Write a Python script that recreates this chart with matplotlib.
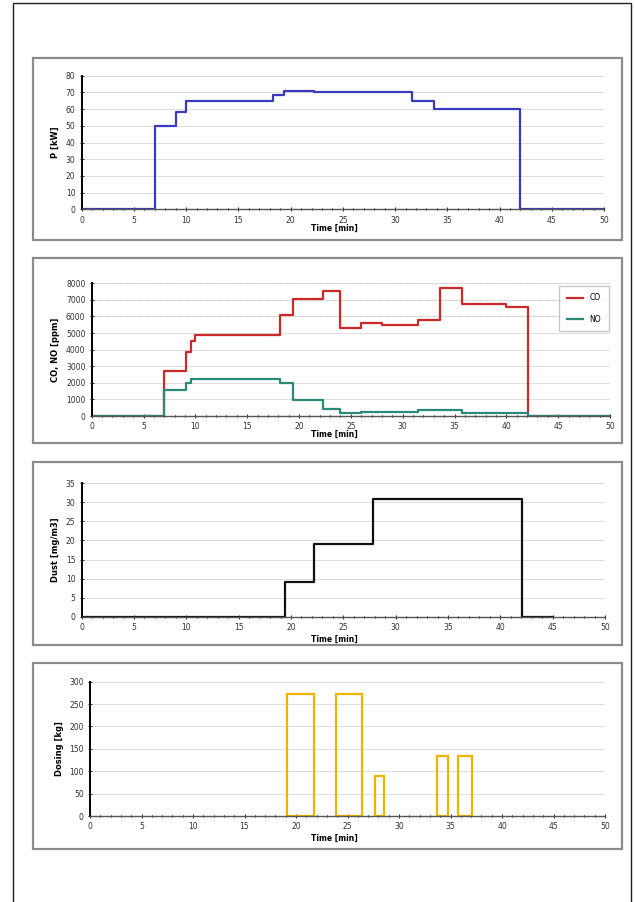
import matplotlib
matplotlib.use("Agg")
import matplotlib.pyplot as plt
from matplotlib.patches import Rectangle
from matplotlib.ticker import MultipleLocator

# -------------------------------
# data
# -------------------------------
p_time = [0, 7, 9, 10, 18.3, 19.4, 22.2, 31.6, 33.7, 42, 50]
p_kw = [0, 50, 58, 65, 68.5, 71, 70, 65, 60, 0, 0]

co_time = [0, 7, 9.1, 9.6, 10, 18.2, 19.4, 22.3, 24, 26, 28, 31.5, 33.6, 35.7, 40, 42.1, 50]
co_ppm = [0, 2700, 3840, 4500, 4880, 6090, 7030, 7560, 5290, 5590, 5490, 5790, 7700, 6730, 6590, 0, 0]

no_time = [0, 7, 9.1, 9.6, 18.2, 19.4, 22.3, 24, 26, 31.5, 35.7, 42.1, 50]
no_ppm = [0, 1570, 2000, 2230, 1970, 965, 400, 160, 260, 360, 160, 0, 0]

dust_time = [0, 19.4, 22.2, 27.8, 42.1, 45]
dust_val = [0, 9.2, 19.1, 30.8, 0, 0]

dose_start = [19.1, 23.85, 27.7, 33.7, 35.7]
dose_end = [21.7, 26.4, 28.5, 34.8, 37.1]
dose_kg = [273, 273, 90, 135, 135]

W, H = 635, 902
fig = plt.figure(figsize=(W / 100, H / 100), dpi=100)


def px_axes(x0, x1, ytop, ybot):
    return fig.add_axes([x0 / W, 1 - ybot / H, (x1 - x0) / W, (ybot - ytop) / H])


def box(x0, y0, x1, y1, color="#8c8c8c", lw=1.6):
    fig.patches.append(Rectangle((x0 / W, 1 - y1 / H), (x1 - x0) / W, (y1 - y0) / H,
                                 transform=fig.transFigure, fill=False,
                                 edgecolor=color, linewidth=lw))


# page border and chart frames
fig.patches.append(Rectangle((13 / W, -0.01), (631 - 13) / W, 1 - 3 / H + 0.01,
                             transform=fig.transFigure, fill=False,
                             edgecolor="#222222", linewidth=1.0))
box(33, 58, 622, 240)
box(33, 258, 622, 443)
box(33, 462, 622, 645)
box(33, 663, 622, 849)


def style(ax, ymax, ystep, ylabel, xlab_y):
    ax.set_xlim(0, 50)
    ax.set_ylim(0, ymax)
    ax.xaxis.set_major_locator(MultipleLocator(5))
    ax.xaxis.set_minor_locator(MultipleLocator(1))
    ax.yaxis.set_major_locator(MultipleLocator(ystep))
    for s in ["top", "right"]:
        ax.spines[s].set_visible(False)
    ax.spines["left"].set_linewidth(1.4)
    ax.spines["bottom"].set_linewidth(1.0)
    ax.spines["bottom"].set_color("#555555")
    ax.tick_params(axis="both", which="major", labelsize=5.5, length=3,
                   direction="inout", width=0.8, pad=3, colors="#333333")
    ax.tick_params(axis="x", which="minor", length=2, direction="inout", width=0.8)
    ax.grid(axis="y", color="#dddddd", linewidth=0.7)
    ax.set_axisbelow(True)
    ax.set_ylabel(ylabel, fontsize=6, fontweight="bold", labelpad=4)
    fig.text(0.527, 1 - xlab_y / H, "Time [min]", fontsize=5.5, fontweight="bold",
             ha="center", va="center")


# -------------------------------
# 1. Power
# -------------------------------
ax1 = px_axes(81.7, 604, 75.7, 209.3)
ax1.step(p_time, p_kw, where="post", color="#3a3ac0", linewidth=1.6)
style(ax1, 80, 10, "P [kW]", 228)

# -------------------------------
# 2. CO / NO
# -------------------------------
ax2 = px_axes(91.7, 610, 283.3, 416)
ax2.step(co_time, co_ppm, where="post", color="#cc2a2a", linewidth=1.6, label="CO")
ax2.step(no_time, no_ppm, where="post", color="#2a8a78", linewidth=1.6, label="NO")
style(ax2, 8000, 1000, "CO, NO [ppm]", 434)
for lvl in [6000, 7000, 8000]:
    ax2.axhline(lvl, color="#666666", linewidth=0.8, linestyle=(0, (3, 3)), zorder=0)
ax2.legend(loc="upper right", bbox_to_anchor=(1.005, 1.01), fontsize=5.5,
           frameon=True, fancybox=False, edgecolor="#bbbbbb", handlelength=2.2,
           borderpad=1.0, labelspacing=1.6)

# -------------------------------
# 3. Dust
# -------------------------------
ax3 = px_axes(81.7, 605, 483.3, 616.7)
ax3.step(dust_time, dust_val, where="post", color="#111111", linewidth=1.6)
style(ax3, 35, 5, "Dust [mg/m3]", 639)

# -------------------------------
# 4. Dosing
# -------------------------------
ax4 = px_axes(90, 605, 681.7, 816)
widths = [e - s for s, e in zip(dose_start, dose_end)]
ax4.bar(dose_start, dose_kg, width=widths, align="edge", fill=False,
        edgecolor="#f0b400", linewidth=1.6)
style(ax4, 300, 50, "Dosing [kg]", 838)

fig.savefig("out.png", dpi=100)
